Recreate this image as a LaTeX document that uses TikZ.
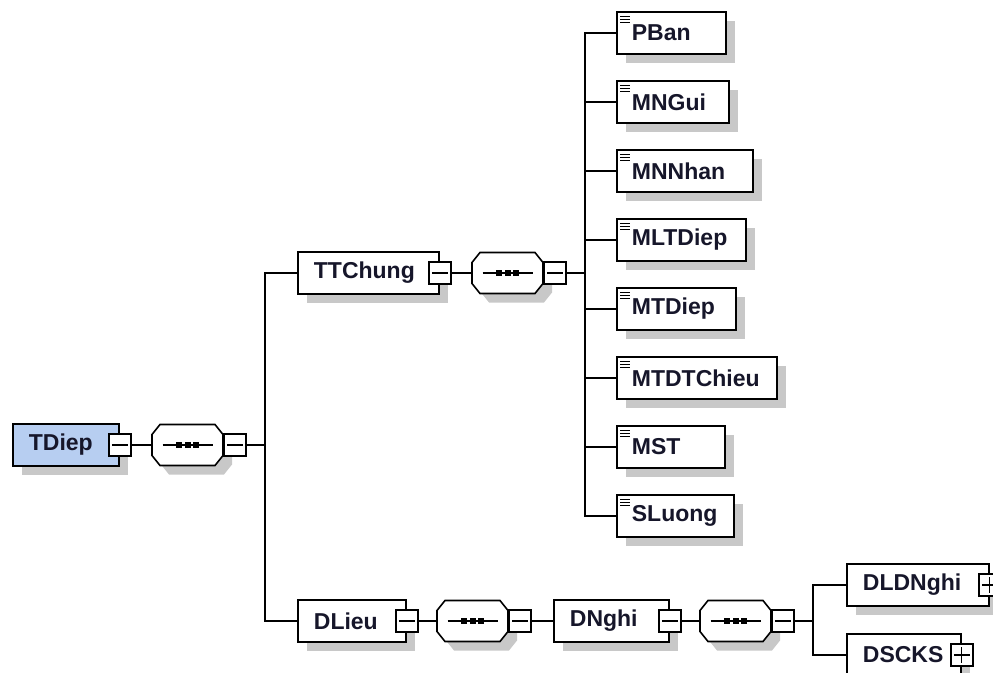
\documentclass[tikz,border=0pt]{standalone}
\usepackage{fontspec}
\setmainfont{Liberation Sans}
\usetikzlibrary{shadows}
\definecolor{tdblue}{RGB}{183,206,241}
\definecolor{shgray}{RGB}{200,200,200}
\definecolor{txt}{RGB}{22,22,42}
\tikzset{
  conn/.style={line width=1.6pt},
  shad/.style={drop shadow={shadow xshift=9pt, shadow yshift=-9pt, fill=shgray, opacity=1}},
  elbox/.style={draw, line width=1.8pt, fill=white, anchor=west, minimum height=42pt,
    inner xsep=16pt, inner ysep=0pt, font=\bfseries\fontsize{23}{25}\selectfont,
    text=txt, align=left, text width=#1, shad},
  leaf/.style={elbox=#1, inner xsep=15pt},
  minusbox/.style={draw, line width=1.4pt, fill=white, minimum size=22pt, inner sep=0pt,
    path picture={\draw[line width=1.2pt] ([xshift=3pt]path picture bounding box.west) -- ([xshift=-3pt]path picture bounding box.east);}},
  plusbox/.style={draw, line width=1.4pt, fill=white, minimum size=22pt, inner sep=0pt,
    path picture={\draw[line width=1.2pt] ([xshift=3pt]path picture bounding box.west) -- ([xshift=-3pt]path picture bounding box.east);
      \draw[line width=1.2pt] ([yshift=-3pt]path picture bounding box.north) -- ([yshift=3pt]path picture bounding box.south);}},
  seqbox/.style={rectangle, minimum width=71pt, minimum height=41pt, inner sep=0pt, anchor=west},
  octline/.style={draw, line width=1.6pt, fill=white},
  icon/.style={line width=1.4pt},
  octshape/.pic={
    \fill[shgray] (17,-11.5) -- (72,-11.5) -- (80,-1.5) -- (80,19.5) -- (72,29.5) -- (17,29.5) -- (9,19.5) -- (9,-1.5) -- cycle;
    \path[octline] (8,-20.5) -- (63,-20.5) -- (71,-10.5) -- (71,10.5) -- (63,20.5) -- (8,20.5) -- (0,10.5) -- (0,-10.5) -- cycle;
  },
}
\begin{document}
\begin{tikzpicture}[x=1pt,y=-1pt]
\useasboundingbox (0,0) rectangle (993,672);
\fill[white] (0,0) rectangle (993,672);
\clip (0,0) rectangle (993,672);

% sequence compositors
\pic at (152,445) {octshape};
\pic at (472,273) {octshape};
\pic at (437,621) {octshape};
\pic at (700,621) {octshape};
\node[seqbox] (tds) at (152,445) {};
\node[seqbox] (tts) at (472,273) {};
\node[seqbox] (dls) at (437,621) {};
\node[seqbox] (dns) at (700,621) {};
\foreach \s in {tds,tts,dls,dns}{
  \draw[line width=1.3pt] ([xshift=-25pt]\s.center) -- ([xshift=25pt]\s.center);
  \foreach \dx in {-8.5,0,8.5}
    \fill ([xshift=\dx pt]\s.center) +(-3,-3) rectangle +(3,3);
}

% root
\node[elbox=74pt, fill=tdblue] (tdiep) at (12,445) {TDiep};
\node[minusbox] (tdm) at (tdiep.east) {};
\node[minusbox, anchor=west] (tdsm) at (tds.east) {};
\coordinate (b1) at (265,445);

% TTChung branch
\node[elbox=109pt] (ttchung) at (297,273) {TTChung};
\node[minusbox] (ttm) at (ttchung.east) {};
\node[minusbox, anchor=west] (ttsm) at (tts.east) {};
\coordinate (b2) at (585,273);

\node[leaf=79pt]  (pban)      at (616,33)  {PBan};
\node[leaf=82pt]  (mngui)     at (616,102) {MNGui};
\node[leaf=106pt] (mnnhan)    at (616,171) {MNNhan};
\node[leaf=99pt]  (mltdiep)   at (616,240) {MLTDiep};
\node[leaf=89pt]  (mtdiep)    at (616,309) {MTDiep};
\node[leaf=130pt] (mtdtchieu) at (616,378) {MTDTChieu};
\node[leaf=78pt]  (mst)       at (616,447) {MST};
\node[leaf=87pt]  (sluong)    at (616,516) {SLuong};

% DLieu branch
\node[elbox=76pt] (dlieu) at (297,621) {DLieu};
\node[minusbox] (dlm) at (dlieu.east) {};
\node[minusbox, anchor=west] (dlsm) at (dls.east) {};
\node[elbox=83pt] (dnghi) at (553,621) {DNghi};
\node[minusbox] (dnm) at (dnghi.east) {};
\node[minusbox, anchor=west] (dnsm) at (dns.east) {};
\coordinate (b3) at (813,621);
\node[elbox=110pt] (dldnghi) at (846,585) {DLDNghi};
\node[plusbox] (dldp) at (dldnghi.east) {};
\node[elbox=82pt] (dscks) at (846,655) {DSCKS};
\node[plusbox] (dscp) at (dscks.east) {};

% element icons
\foreach \n in {pban,mngui,mnnhan,mltdiep,mtdiep,mtdtchieu,mst,sluong}{
  \foreach \dy in {5.5,8.5,11.5}
    \draw[icon] ([xshift=4pt,yshift=-\dy pt]\n.north west) -- ++(10,0);
}

% connectors
\draw[conn] (tdm.east) -- (tds.west);
\draw[conn] (tdsm.east) -- (b1);
\draw[conn] (ttchung.west) -- (ttchung.west -| b1) -- (dlieu.west -| b1) -- (dlieu.west);

\draw[conn] (ttm.east) -- (tts.west);
\draw[conn] (ttsm.east) -- (b2);
\draw[conn] (pban.west) -- (pban.west -| b2) -- (sluong.west -| b2) -- (sluong.west);
\foreach \n in {mngui,mnnhan,mltdiep,mtdiep,mtdtchieu,mst}
  \draw[conn] (\n.west -| b2) -- (\n.west);

\draw[conn] (dlm.east) -- (dls.west);
\draw[conn] (dlsm.east) -- (dnghi.west);
\draw[conn] (dnm.east) -- (dns.west);
\draw[conn] (dnsm.east) -- (b3);
\draw[conn] (dldnghi.west) -- (dldnghi.west -| b3) -- (dscks.west -| b3) -- (dscks.west);
\end{tikzpicture}
\end{document}
